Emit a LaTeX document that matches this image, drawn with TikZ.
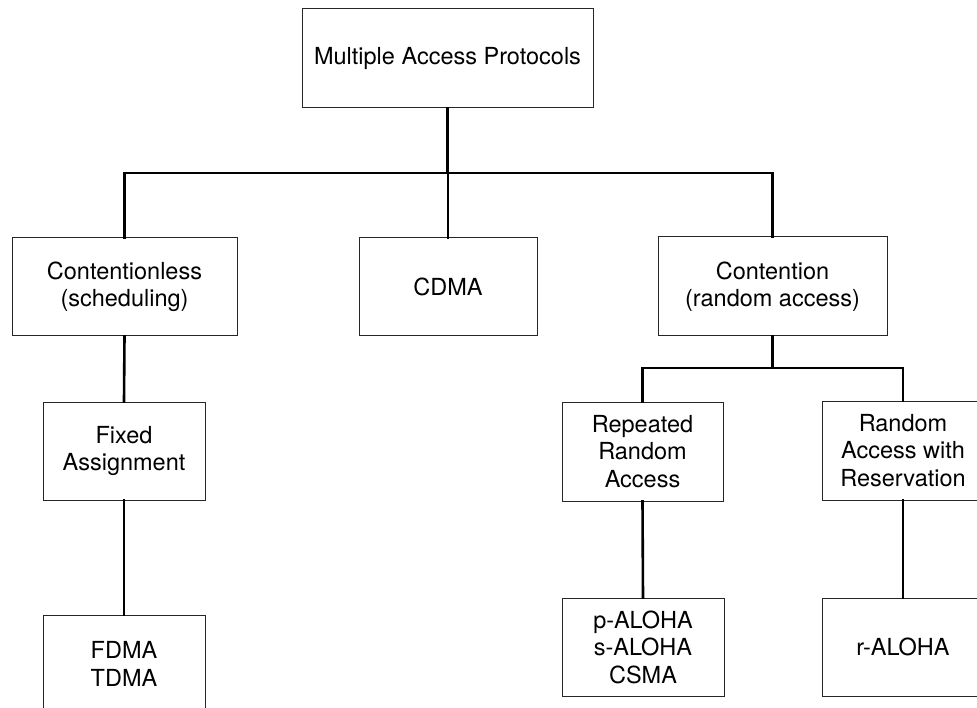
\documentclass[tikz,border=0pt]{standalone}
\usepackage{fontspec}
\setmainfont{TeX Gyre Heros}
\begin{document}
\begin{tikzpicture}[x=1pt,y=-1pt,
  box/.style={draw=black!85,line width=1pt,align=center,inner sep=0pt,
    font=\fontsize{23.5}{27.5}\selectfont},
  conn/.style={line width=2.6pt,line join=miter,line cap=rect}]
\clip (0,0) rectangle (977,708);
\useasboundingbox (0,0) rectangle (977,708);
% boxes
\node[box,minimum width=291pt,minimum height=99pt] (top) at (447.5,58.5) {Multiple Access Protocols};
\node[box,minimum width=225pt,minimum height=98pt] (cl) at (124.5,287) {Contentionless\\(scheduling)};
\node[box,minimum width=178pt,minimum height=98pt] (cdma) at (448,287) {CDMA};
\node[box,minimum width=229pt,minimum height=99pt] (ct) at (772.5,286.5) {Contention\\(random access)};
\node[box,minimum width=162pt,minimum height=98pt] (fa) at (124,451) {Fixed\\Assignment};
\node[box,minimum width=162pt,minimum height=98pt] (ft) at (124,664) {FDMA\\TDMA};
\node[box,minimum width=161pt,minimum height=99pt] (rra) at (642.5,451.5) {Repeated\\Random\\Access};
\node[box,minimum width=162pt,minimum height=99pt] (rar) at (903,450.5) {Random\\Access with\\Reservation};
\node[box,minimum width=162pt,minimum height=98pt] (pa) at (643,647) {p-ALOHA\\s-ALOHA\\CSMA};
\node[box,minimum width=162pt,minimum height=98pt] (ra) at (903,647) {r-ALOHA};
% bus coordinates
\coordinate (bus1) at (0,173);
\coordinate (bus2) at (0,368);
% connectors
\draw[conn] (top.south) -- (top.south |- bus1);
\draw[conn] (cl.north) -- (cl.north |- bus1) -- (ct.north |- bus1) -- (ct.north);
\draw[conn] (cdma.north) -- (cdma.north |- bus1);
\draw[conn] (cl.south) -- (fa.north);
\draw[conn] (fa.south) -- (ft.north);
\draw[conn] (ct.south) -- (ct.south |- bus2);
\draw[conn] (rra.north) -- (rra.north |- bus2) -- (rar.north |- bus2) -- (rar.north);
\draw[conn] (rra.south) -- (pa.north);
\draw[conn] (rar.south) -- (ra.north);
\end{tikzpicture}
\end{document}
